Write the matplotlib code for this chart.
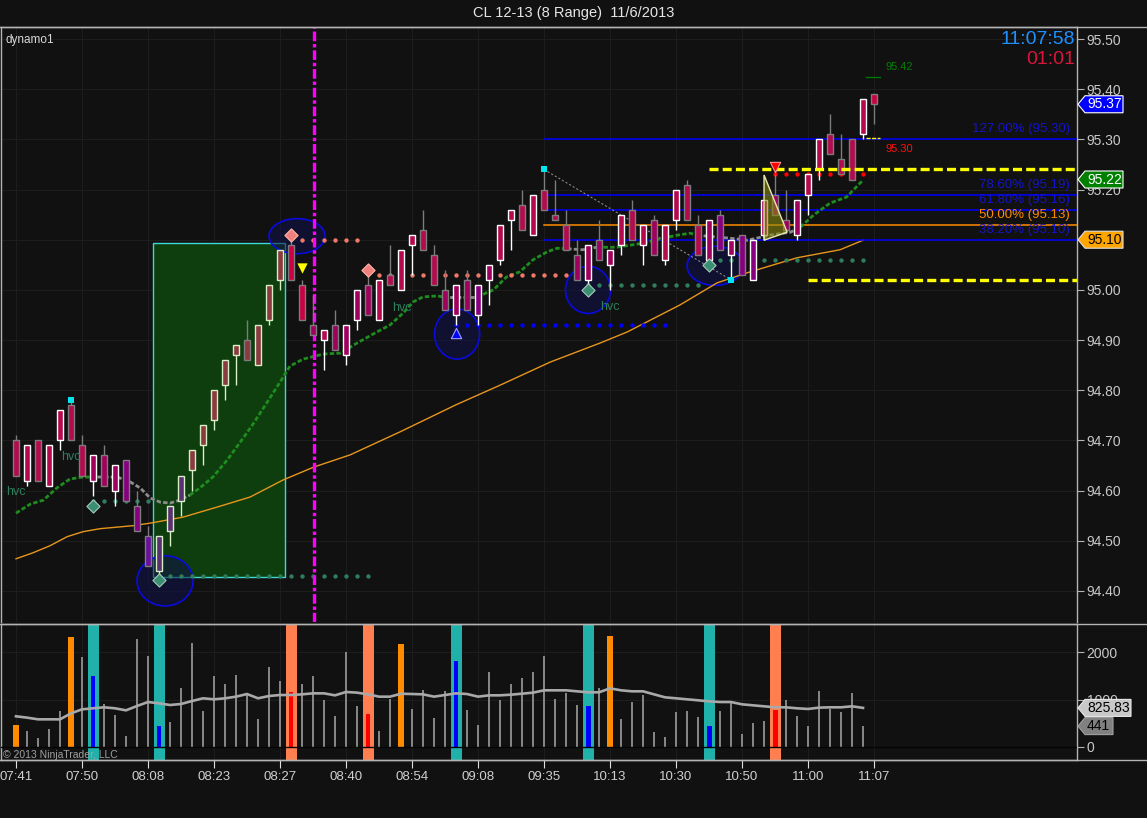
#!/usr/bin/env python3
"""CL 12-13 (8 Range) 11/6/2013 - NinjaTrader style chart redrawn with matplotlib."""
import numpy as np
import matplotlib
matplotlib.use("Agg")
import matplotlib.pyplot as plt
from matplotlib.patches import Rectangle, Ellipse, Polygon
from matplotlib.ticker import FormatStrFormatter

plt.rcParams.update({"font.family": "Liberation Sans", "lines.scale_dashes": False})

# ---- candles (8 tick range bars) ----
opens = [94.70, 94.62, 94.70, 94.61, 94.70, 94.77, 94.69, 94.62, 94.67, 94.60,
         94.66, 94.57, 94.51, 94.44, 94.52, 94.58, 94.64, 94.69, 94.74, 94.81,
         94.87, 94.90, 94.85, 94.94, 95.02, 95.09, 95.01, 94.93, 94.90, 94.93,
         94.87, 94.94, 95.01, 94.94, 95.03, 95.00, 95.09, 95.12, 95.07, 95.00,
         94.95, 95.02, 94.95, 95.02, 95.06, 95.14, 95.17, 95.11, 95.20, 95.15,
         95.13, 95.07, 95.02, 95.10, 95.05, 95.09, 95.16, 95.09, 95.14, 95.06,
         95.14, 95.21, 95.13, 95.06, 95.15, 95.07, 95.11, 95.02, 95.11, 95.19,
         95.14, 95.11, 95.19, 95.24, 95.31, 95.26, 95.30, 95.31, 95.39]
highs = [94.71, 94.69, 94.70, 94.69, 94.76, 94.78, 94.71, 94.67, 94.69, 94.65,
         94.66, 94.60, 94.53, 94.51, 94.57, 94.63, 94.68, 94.73, 94.80, 94.86,
         94.89, 94.94, 94.93, 95.01, 95.08, 95.10, 95.02, 94.99, 94.92, 94.96,
         94.93, 95.00, 95.03, 95.02, 95.09, 95.08, 95.11, 95.16, 95.09, 95.04,
         95.01, 95.04, 95.01, 95.05, 95.13, 95.16, 95.20, 95.19, 95.24, 95.22,
         95.16, 95.10, 95.09, 95.14, 95.08, 95.15, 95.18, 95.13, 95.15, 95.13,
         95.20, 95.22, 95.15, 95.14, 95.16, 95.10, 95.11, 95.10, 95.18, 95.23,
         95.20, 95.18, 95.23, 95.30, 95.35, 95.31, 95.30, 95.38, 95.39]
lows = [94.63, 94.61, 94.62, 94.61, 94.68, 94.70, 94.63, 94.59, 94.61, 94.57,
        94.58, 94.52, 94.45, 94.43, 94.49, 94.55, 94.60, 94.65, 94.72, 94.78,
        94.81, 94.86, 94.85, 94.93, 95.00, 95.02, 94.94, 94.91, 94.84, 94.88,
        94.85, 94.92, 94.95, 94.94, 95.01, 95.00, 95.03, 95.08, 95.01, 94.96,
        94.93, 94.96, 94.93, 94.97, 95.05, 95.08, 95.12, 95.11, 95.16, 95.14,
        95.08, 95.02, 95.01, 95.06, 95.00, 95.07, 95.10, 95.05, 95.07, 95.05,
        95.12, 95.14, 95.07, 95.06, 95.08, 95.02, 95.03, 95.02, 95.10, 95.15,
        95.12, 95.10, 95.15, 95.22, 95.27, 95.23, 95.22, 95.30, 95.33]
closes = [94.63, 94.69, 94.62, 94.69, 94.76, 94.70, 94.63, 94.67, 94.61, 94.65,
          94.58, 94.52, 94.45, 94.51, 94.57, 94.63, 94.68, 94.73, 94.80, 94.86,
          94.89, 94.86, 94.93, 95.01, 95.08, 95.02, 94.94, 94.91, 94.92, 94.88,
          94.93, 95.00, 94.95, 95.02, 95.01, 95.08, 95.11, 95.08, 95.01, 94.96,
          95.01, 94.96, 95.01, 95.05, 95.13, 95.16, 95.12, 95.19, 95.16, 95.14,
          95.08, 95.02, 95.09, 95.06, 95.08, 95.15, 95.10, 95.13, 95.07, 95.13,
          95.20, 95.14, 95.07, 95.14, 95.08, 95.10, 95.03, 95.10, 95.18, 95.15,
          95.12, 95.18, 95.23, 95.30, 95.27, 95.23, 95.22, 95.38, 95.37]
# body colour code per bar (dynamo colouring)
body_codes = ("cccccccmmmppvdddbbbbbbbbbrrmcmmmmccccccmmmpmcccccccmmmmcccmccccmpmppmmmmccccccr")
code_colors = {"r": "#CC0044", "c": "#B40A4E", "m": "#A0005E", "p": "#880080",
               "v": "#6A10A0", "d": "#5A3070", "b": "#8B3A40"}

time_ticks = list(range(0, 79, 6))
time_labels = ["07:41", "07:50", "08:08", "08:23", "08:27", "08:40", "08:54",
               "09:08", "09:35", "10:13", "10:30", "10:50", "11:00", "11:07"]

# ---- volume ----
volume = [465, 338, 190, 380, 760, 2323, 1900, 1500, 908, 676,
          232, 2281, 1922, 443, 528, 1246, 2196, 760, 1500, 1330,
          1520, 1140, 591, 1690, 1394, 1162, 1330, 1500, 993, 655,
          2006, 866, 697, 338, 1014, 2175, 803, 1204, 612, 1183,
          1816, 781, 465, 1584, 993, 1330, 1457, 1584, 1922, 1014,
          1140, 887, 866, 1246, 2344, 591, 950, 1098, 317, 211,
          739, 760, 634, 443, 760, 929, 275, 507, 549, 781,
          993, 655, 443, 1183, 803, 739, 1140, 441]
volume_ma = [648, 620, 584, 584, 584, 711, 795, 817, 838, 817,
             774, 866, 950, 922, 887, 908, 971, 1028, 1007, 1028,
             1063, 1119, 1028, 1077, 1098, 1098, 1112, 1133, 1133, 1091,
             1162, 1148, 1112, 1063, 1063, 1125, 1119, 1112, 1063, 1098,
             1133, 1119, 1063, 1091, 1091, 1105, 1126, 1148, 1197, 1197,
             1197, 1176, 1155, 1155, 1239, 1197, 1176, 1176, 1112, 1049,
             1028, 1007, 986, 964, 950, 950, 901, 880, 859, 838,
             838, 817, 803, 831, 838, 838, 859, 826]
orange_vol_bars = [0, 5, 35, 54]
up_climax_bars = [7, 13, 40, 52, 63]
down_climax_bars = [25, 32, 69]

# ---- slow average (orange) ----
sma_idx = [0, 1.55, 3.09, 4.64, 6.09, 7.64, 10.64, 12.18, 15.18, 18.27, 21.27, 24.27,
           27.09, 30.36, 34.91, 40.0, 44.0, 48.55, 53.09, 55.55, 60.36, 63.73, 66.45,
           71.0, 74.91, 77.0]
sma_price = [94.464, 94.476, 94.490, 94.508, 94.518, 94.524, 94.530, 94.535, 94.547,
             94.567, 94.587, 94.621, 94.647, 94.671, 94.717, 94.771, 94.810, 94.856,
             94.894, 94.916, 94.970, 95.014, 95.034, 95.064, 95.080, 95.099]

# ---- fast average (green when trending, grey when flat) ----
ema_idx = [0.0, 1.3, 2.5, 3.7, 4.9, 6.1, 6.7,
           7.4, 9.2, 10.4, 11.3, 12.2, 13.1, 14.0, 14.9,
           15.8, 16.7, 17.9, 19.2, 20.4, 21.5, 22.8, 24.0, 24.9, 26.1, 27.9, 29.5, 31.0,
           32.8, 34.0, 35.2, 36.1, 37.0, 38.3,
           38.8, 41.0,
           41.9, 43.4, 44.6, 45.8, 47.0, 48.3, 49.2,
           50.1, 51.5,
           52.8, 54.6, 55.8, 57.0, 58.8, 60.1, 61.3,
           61.9, 64.9, 66.5, 68.5, 70.4,
           71.3, 72.5, 74.0, 75.5, 77.0]
ema_price = [94.555, 94.573, 94.581, 94.605, 94.623, 94.627, 94.627,
             94.627, 94.627, 94.617, 94.605, 94.585, 94.577, 94.575, 94.581,
             94.591, 94.605, 94.627, 94.661, 94.697, 94.731, 94.775, 94.816, 94.848,
             94.862, 94.872, 94.874, 94.894, 94.916, 94.930, 94.954, 94.976, 94.986,
             94.988,
             94.986, 94.986,
             94.986, 95.000, 95.026, 95.036, 95.060, 95.076, 95.083,
             95.082, 95.080,
             95.085, 95.085, 95.089, 95.093, 95.103, 95.109, 95.113,
             95.109, 95.103, 95.099, 95.109, 95.115,
             95.125, 95.149, 95.173, 95.185, 95.219]
ema_state = "g" * 7 + "n" * 8 + "g" * 19 + "n" * 2 + "g" * 7 + "n" * 2 + "g" * 7 + "n" * 5 + "g" * 5

# ---- drawing objects ----
fib_levels = [95.30, 95.19, 95.16, 95.13, 95.10]
fib_labels = ["127.00% (95.30)", "78.60% (95.19)", "61.80% (95.16)",
              "50.00% (95.13)", "38.20% (95.10)"]
fib_start = 48
yellow_levels = [(63, 95.24), (72, 95.02)]

# (first bar, last bar, price, colour)
dot_rows = [(7, 12, 94.58, "#2E7D5C"), (13, 32, 94.43, "#2E7D5C"),
            (26, 31, 95.10, "#F07868"), (33, 51, 95.03, "#F07868"),
            (40, 59, 94.93, "#0000FF"), (52, 62, 95.01, "#2E7D5C"),
            (63, 77, 95.06, "#2E7D5C"), (69, 77, 95.23, "#FF0000")]
teal_diamonds = [(7, 94.57), (13, 94.422), (52, 95.00), (63, 95.05)]
salmon_diamonds = [(25, 95.11), (32, 95.04)]
cyan_squares = [(5, 94.78), (48, 95.24), (65, 95.02)]
ellipses = [(13.55, 94.42, 5.1, 0.100), (25.55, 95.107, 5.1, 0.070),
            (40.1, 94.912, 4.1, 0.100), (52.0, 95.000, 4.1, 0.094),
            (63.55, 95.048, 5.1, 0.078)]
hvc_idx = [-0.9, 4.1, 34.2, 53.1]
hvc_price = [94.597, 94.667, 94.964, 94.966]
box = (12.45, 24.45, 94.428, 95.093)
triangle = [(68.0, 95.229), (70.1, 95.115), (68.0, 95.099)]

W, H = 1147, 818
BG = "#111111"
GRID = "#1D1D1D"
FRAME = "#B4B4B4"

fig = plt.figure(figsize=(W / 100, H / 100), dpi=100, facecolor=BG)
ax = fig.add_axes([1 / W, 1 - 622 / H, 1076 / W, (622 - 27) / H], facecolor=BG)
axv = fig.add_axes([1 / W, 1 - 760 / H, 1076 / W, (760 - 624) / H], facecolor=BG, sharex=ax)
ov = fig.add_axes([0, 0, 1, 1], zorder=20)
ov.set_xlim(0, W); ov.set_ylim(H, 0); ov.axis("off"); ov.patch.set_alpha(0)

ax.set_xlim(-1.364, 96.45)
ax.set_ylim(94.338, 95.524)
axv.set_ylim(-275, 2598)

for a in (ax, axv):
    for s in a.spines.values():
        s.set_color(FRAME); s.set_linewidth(1)
    a.yaxis.tick_right()
    a.tick_params(axis="y", colors=FRAME, labelcolor="#C8C8C8", length=5, pad=2, labelsize=10)
    a.grid(True, color=GRID, lw=0.8)
    a.set_axisbelow(True)
ax.spines["bottom"].set_visible(False)
ax.set_yticks(np.round(np.arange(94.40, 95.501, 0.10), 2))
ax.yaxis.set_major_formatter(FormatStrFormatter("%.2f"))
ax.tick_params(axis="x", bottom=False, labelbottom=False)
axv.set_yticks([0, 1000, 2000])
axv.set_xticks(time_ticks)
axv.set_xticklabels(time_labels)
axv.tick_params(axis="x", colors="#E0E0E0", labelcolor="#D0D0D0", length=6, pad=2, labelsize=9.5)

# ---- price pane ----
n = len(opens)
idx = np.arange(n)
o, hi, lo, c = map(np.array, (opens, highs, lows, closes))
up = c > o
in_box = (idx > box[0]) & (idx < box[1])
edges = ["#D4F0C4" if (u and b) else ("#FFFFFF" if u else "#7C7C7C") for u, b in zip(up, in_box)]
fills = [code_colors[k] for k in body_codes]

ax.add_patch(Rectangle((box[0], box[2]), box[1] - box[0], box[3] - box[2],
                       fc="#0E3E0E", ec="#3CD8D8", lw=1, zorder=1))
for cx, cy, w, h in ellipses:
    ax.add_patch(Ellipse((cx, cy), w, h, fc="#10104A", alpha=0.55, ec="none", zorder=2))
    ax.add_patch(Ellipse((cx, cy), w, h, fc="none", ec="#0A0AE0", lw=1.2, zorder=2))

ax.plot(sma_idx, sma_price, color="#E8951E", lw=1.0, zorder=3)
for lvl in fib_levels:
    col = "#FF8C00" if abs(lvl - 95.13) < 1e-6 else "#0000FF"
    ax.plot([fib_start, 96.5], [lvl, lvl], color=col, lw=1.1, zorder=3)
for lvl, txt in zip(fib_levels, fib_labels):
    col = "#FF8C00" if abs(lvl - 95.13) < 1e-6 else "#1414C8"
    ax.text(95.8, lvl + 0.02, txt, color=col, fontsize=9.5, ha="right", va="center", zorder=4)
ax.plot([cyan_squares[1][0], cyan_squares[2][0]], [cyan_squares[1][1], cyan_squares[2][1]],
        color="#8A8A8A", lw=0.8, ls=(0, (1.5, 1.5)), zorder=3)

# fast average in runs of one colour
start = 0
for k in range(1, len(ema_idx) + 1):
    if k == len(ema_idx) or ema_state[k] != ema_state[start]:
        stop = min(k, len(ema_idx) - 1)
        col = "#1E8C1E" if ema_state[start] == "g" else "#8C8C8C"
        ax.plot(ema_idx[start:stop + 1], ema_price[start:stop + 1], color=col, lw=2.0,
                dashes=(3.2, 1.6), solid_capstyle="butt", zorder=4)
        start = k

for a0, a1, p, col in dot_rows:
    xs = np.arange(a0, a1 + 1)
    ax.scatter(xs, np.full(len(xs), p), s=10, color=col, zorder=4, linewidths=0)

ax.axvline(27.1, color="#FF00FF", lw=2.4, dashes=(7, 2, 2.5, 2), zorder=4)

ax.vlines(idx, lo, hi, colors=edges, lw=1, zorder=5)
ax.bar(idx, np.maximum(np.abs(c - o), 0.004), bottom=np.minimum(o, c), width=0.62,
       color=fills, edgecolor=edges, linewidth=1.0, zorder=6)

ax.add_patch(Polygon(triangle, closed=True, fc="#8A8A10", alpha=0.6, ec="none", zorder=7))
ax.add_patch(Polygon(triangle, closed=True, fc="none", ec="#E8E8B0", lw=1, zorder=7))

for start_bar, lvl in yellow_levels:
    ax.plot([start_bar, 96.5], [lvl, lvl], color="#FFFF00", lw=2.4, dashes=(6.5, 3), zorder=7)

ax.scatter([d[0] for d in teal_diamonds], [d[1] for d in teal_diamonds], marker="D", s=45,
           color="#3A8F72", edgecolors="#A8C8B8", linewidths=0.8, zorder=8)
ax.scatter([d[0] for d in salmon_diamonds], [d[1] for d in salmon_diamonds], marker="D", s=45,
           color="#F08080", edgecolors="#FFB8A8", linewidths=0.8, zorder=8)
ax.scatter([q[0] for q in cyan_squares], [q[1] for q in cyan_squares], marker="s", s=14,
           color="#00E5EE", linewidths=0, zorder=8)
ax.scatter([26], [95.044], marker="v", s=55, color="#FFFF00", linewidths=0, zorder=8)
ax.scatter([69], [95.245], marker="v", s=55, color="#FF0000", edgecolors="#FF9090", linewidths=0.8, zorder=8)
ax.scatter([40], [94.914], marker="^", s=55, color="#0000FF", edgecolors="#A0A0FF", linewidths=0.8, zorder=8)

for xi, pi in zip(hvc_idx, hvc_price):
    ax.text(xi, pi, "hvc", color="#2E7D5C", fontsize=9, ha="left", va="center", zorder=8)

ax.plot([77.3, 78.5], [95.424, 95.424], color="#008000", lw=0.9, zorder=8)
ax.text(79.0, 95.445, "95.42", color="#008000", fontsize=8, ha="left", va="center", zorder=8)
ax.plot([77.3, 78.5], [95.303, 95.303], color="#FFFF00", lw=1.0, dashes=(3, 1), zorder=8)
ax.text(79.0, 95.281, "95.30", color="#FF1010", fontsize=8, ha="left", va="center", zorder=8)

# ---- volume pane ----
vx = np.arange(len(volume))
for i in up_climax_bars:
    axv.axvspan(i - 0.5, i + 0.5, color="#20B2AA", zorder=1, lw=0)
for i in down_climax_bars:
    axv.axvspan(i - 0.5, i + 0.5, color="#FF7F50", zorder=1, lw=0)
special = set(orange_vol_bars) | set(up_climax_bars) | set(down_climax_bars)
plain = [i for i in vx if i not in special]
axv.bar(plain, [volume[i] for i in plain], width=0.2, color="#858585", zorder=2)
axv.bar(orange_vol_bars, [volume[i] for i in orange_vol_bars], width=0.55, color="#FF8C00", zorder=2)
axv.bar(up_climax_bars, [volume[i] for i in up_climax_bars], width=0.45, color="#0000FF", zorder=2)
axv.bar(down_climax_bars, [volume[i] for i in down_climax_bars], width=0.45, color="#FF0000", zorder=2)
axv.axhline(0, color="#050505", lw=1, zorder=3)
axv.plot(vx, volume_ma, color="#A9A9A9", lw=1.9, zorder=4)


# ---- overlay: tags, titles, frame ----
def tag(a, value, text, face, fg, width, edge="#FFFFFF"):
    y = H - a.transData.transform((0, value))[1]
    x0 = 1078
    pts = [(x0, y), (x0 + 7, y - 8.5), (x0 + 7 + width, y - 8.5), (x0 + 7 + width, y + 8.5), (x0 + 7, y + 8.5)]
    ov.add_patch(Polygon(pts, closed=True, fc=face, ec=edge, lw=0.8))
    ov.text(x0 + 9, y, text, color=fg, fontsize=10, ha="left", va="center")


tag(ax, closes[-1], f"{closes[-1]:.2f}", "#0000FF", "#FFFFFF", 38)
tag(ax, 95.22, "95.22", "#008000", "#FFFFFF", 38)
tag(ax, 95.10, "95.10", "#FFA500", "#000000", 38, edge="#E0E0E0")
tag(axv, volume_ma[-1] - 0.17, "825.83", "#C8C8C8", "#000000", 46, edge="#E8E8E8")
tag(axv, volume[-1], f"{volume[-1]}", "#808080", "#000000", 28, edge="#A0A0A0")

for yline in (27, 624, 760):
    ov.plot([0, W], [yline, yline], color=FRAME, lw=1)
ov.text(W / 2, 13, "CL 12-13 (8 Range)  11/6/2013", color="#E6E6E6", fontsize=10.5,
        ha="center", va="center")
ov.text(5, 40, "dynamo1", color="#D8D8D8", fontsize=8.5, ha="left", va="center")
ov.text(1075, 40, "11:07:58", color="#1E90FF", fontsize=14, ha="right", va="center")
ov.text(1075, 59, "01:01", color="#DC143C", fontsize=14, ha="right", va="center")
ov.text(3, 755, "© 2013 NinjaTrader, LLC", color="#A0A0A0", fontsize=7.5, ha="left", va="center")

fig.savefig("out.png", dpi=100, facecolor=BG)
